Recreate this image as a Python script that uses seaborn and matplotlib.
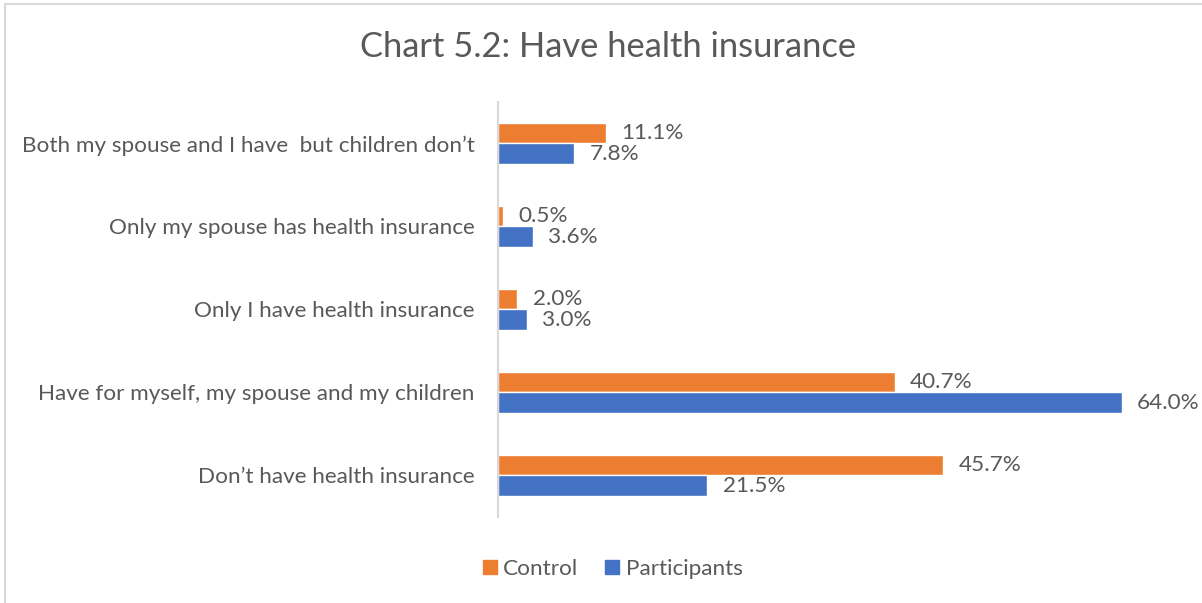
import matplotlib
matplotlib.use("Agg")
import matplotlib.pyplot as plt
from matplotlib.patches import Rectangle
from matplotlib.lines import Line2D
import seaborn as sns
import pandas as pd

categories = [
    "Both my spouse and I have  but children don\u2019t",
    "Only my spouse has health insurance",
    "Only I have health insurance",
    "Have for myself, my spouse and my children",
    "Don\u2019t have health insurance",
]
control = [11.1, 0.5, 2.0, 40.7, 45.7]
participants = [7.8, 3.6, 3.0, 64.0, 21.5]
series = ["Control", "Participants"]
colors = {"Control": "#ED7D31", "Participants": "#4472C4"}
title = "Chart 5.2: Have health insurance"

df = pd.DataFrame({
    "category": categories * 2,
    "group": [series[0]] * len(categories) + [series[1]] * len(categories),
    "value": control + participants,
})

sns.set_theme(style="white")
plt.rcParams["font.family"] = ["Lato", "DejaVu Sans"]
text_color = "#595959"

fig = plt.figure(figsize=(12.02, 6.03), dpi=100)
ax = fig.add_axes([0.4143, 0.143, 0.5674, 0.688])

sns.barplot(data=df, y="category", x="value", hue="group", order=categories,
            hue_order=series, palette=colors, orient="h", width=0.5, gap=0,
            saturation=1, ax=ax, legend=False)

ax.set_xlim(0, 70)
ax.set_ylim(len(categories) - 0.5, -0.5)
ax.set_xlabel("")
ax.set_ylabel("")
ax.set_xticks([])
for s in ["top", "right", "bottom"]:
    ax.spines[s].set_visible(False)
ax.spines["left"].set_color("#D9D9D9")
ax.spines["left"].set_linewidth(1.5)
ax.tick_params(axis="y", length=0, pad=17, labelsize=16.2, labelcolor=text_color)

for container in ax.containers:
    ax.bar_label(container, labels=[f"{v:.1f}%" for v in container.datavalues],
                 padding=11, fontsize=16.2, color=text_color)

fig.text(0.506, 0.922, title, ha="center", va="center", fontsize=24.8, color=text_color)

handles = [Line2D([], [], marker="s", linestyle="none", markersize=9.5,
                  markerfacecolor=colors[s], markeredgecolor=colors[s]) for s in series]
fig.legend(handles, series, loc="center", bbox_to_anchor=(0.508, 0.056), ncol=2,
           frameon=False, fontsize=16.2, labelcolor=text_color, handletextpad=0.1,
           columnspacing=1.0, handlelength=1.0)

# chart-area border (left and top edges visible)
fig.patches.append(Rectangle((5 / 1202, -0.05), 1.2, 1 - 4 / 603 + 0.05,
                             transform=fig.transFigure, fill=False,
                             edgecolor="#D9D9D9", linewidth=1.5))

fig.savefig("out.png", dpi=100, facecolor="white")
